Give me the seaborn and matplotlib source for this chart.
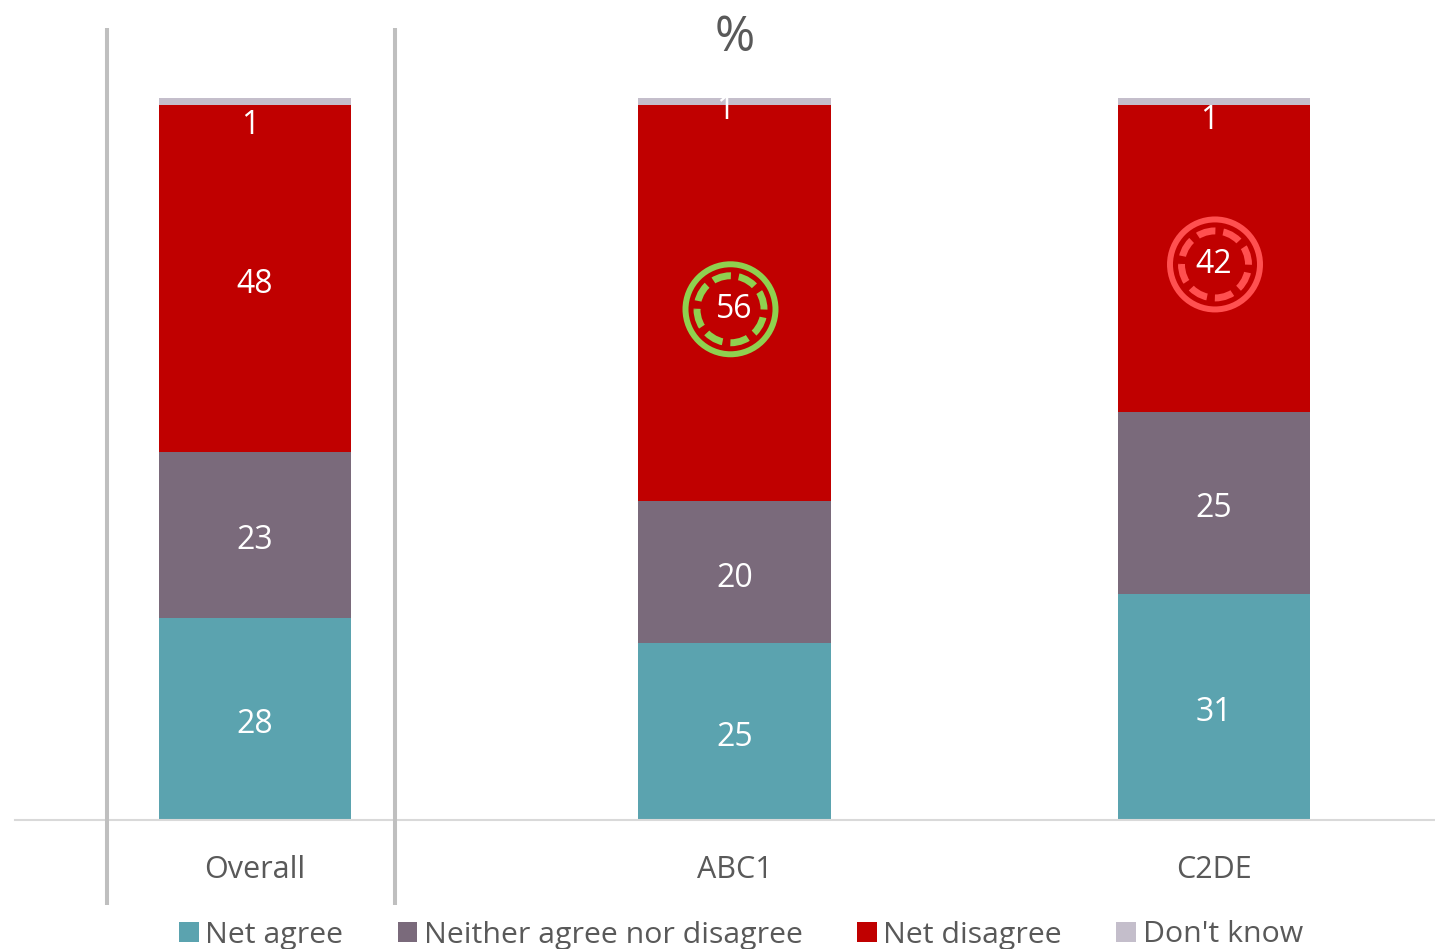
import numpy as np
import pandas as pd
import matplotlib
matplotlib.use("Agg")
import matplotlib.pyplot as plt
from matplotlib.markers import MarkerStyle
from matplotlib.transforms import Affine2D
from matplotlib.patches import Patch
from matplotlib.lines import Line2D
import seaborn as sns

groups = ["Overall", "ABC1", "C2DE"]
net_agree = [28, 25, 31]
neither = [23, 20, 25]
net_disagree = [48, 56, 42]
dont_know = [1, 1, 1]
series_names = ["Net agree", "Neither agree nor disagree", "Net disagree", "Don't know"]
series_values = [net_agree, neither, net_disagree, dont_know]
unit_label = "%"

colors = ["#5BA3AF", "#7A6A7B", "#C00000", "#C4BECB"]
TXT = "#595959"
W, H = 1435, 949

sns.set_theme(style="white")
plt.rcParams["font.family"] = ["Open Sans", "DejaVu Sans"]

rows = []
for name, vals in zip(series_names, series_values):
    for g, v in zip(groups, vals):
        rows.append({"group": g, "series": name, "value": v})
df = pd.DataFrame(rows)
df["share"] = df["value"] / df.groupby("group")["value"].transform("sum") * 100

fig = plt.figure(figsize=(W / 100, H / 100), dpi=100, facecolor="white")
ax = fig.add_axes([15 / W, 1 - 820 / H, 1420 / W, 722 / H])
ax.patch.set_alpha(0)

bottom = np.zeros(3)
centers = {}
for name, col in zip(series_names, colors):
    sub = df[df.series == name].set_index("group").loc[groups].reset_index()
    sns.barplot(data=sub, x="group", y="share", color=col, saturation=1, width=0.401,
                bottom=bottom, ax=ax, order=groups, linewidth=0)
    centers[name] = bottom + sub["share"].to_numpy() / 2
    bottom = bottom + sub["share"].to_numpy()

# pixel nudges of data labels (dx, dy with y upward)
nudge = {"Don't know": [(-5, -24), (-9, -9), (-5, -19)]}
for name, vals in zip(series_names, series_values):
    for i, v in enumerate(vals):
        dx, dy = nudge.get(name, [(0, -6)] * 3)[i]
        ax.annotate(str(v), (i, centers[name][i]), xytext=(dx * 0.72, dy * 0.72),
                    textcoords="offset points", ha="center", va="center",
                    color="white", fontsize=23, zorder=6, annotation_clip=False)

# highlight rings on the Net disagree segments
rings = {1: ("#8FD14F", -4, -6), 2: ("#FF5050", 1, -6)}
ring_marker = MarkerStyle("o", transform=Affine2D().rotate_deg(-90))
for i, (col, dx, dy) in rings.items():
    tr = ax.transData + Affine2D().translate(dx, dy)
    y = centers["Net disagree"][i]
    ax.scatter([i], [y], s=(90 * 0.72) ** 2, facecolors="none", edgecolors=col,
               linewidths=4.3, transform=tr, zorder=5, clip_on=False)
    ax.scatter([i], [y], s=(67 * 0.72) ** 2, facecolors="none", edgecolors=col,
               linewidths=5, linestyles=[(0, (2.64, 1.14))], marker=ring_marker,
               transform=tr, zorder=5, clip_on=False)

ax.set_xlim((15 - 255) / 479.5, (1435 - 255) / 479.5)
ax.set_ylim(0, 100)
ax.set_xlabel("")
ax.set_ylabel("")
ax.set_yticks([])
ax.set_xticks(range(3))
ax.set_xticklabels(groups, color=TXT, fontsize=22)
ax.tick_params(axis="x", length=0, pad=25)
for s in ["top", "left", "right"]:
    ax.spines[s].set_visible(False)
ax.spines["bottom"].set_color("#D9D9D9")
ax.spines["bottom"].set_linewidth(1.5)

# section dividers and unit title
for px in (107, 395):
    fig.add_artist(Line2D([px / W, px / W], [1 - 905 / H, 1 - 28 / H], color="#BFBFBF", lw=2.9,
                          solid_capstyle="butt"))
fig.text(735 / W, 1 - 38 / H, unit_label, ha="center", va="center", color=TXT, fontsize=35)

handles = [Patch(facecolor=c, edgecolor="none") for c in colors]
fig.legend(handles, series_names, loc="center", bbox_to_anchor=(741 / W, 1 - 935 / H), ncol=4,
           frameon=False, fontsize=21.8, labelcolor=TXT, handlelength=0.65, handleheight=0.65,
           handletextpad=0.22, columnspacing=1.79, borderpad=0, borderaxespad=0)

fig.savefig("out.png", dpi=100)
